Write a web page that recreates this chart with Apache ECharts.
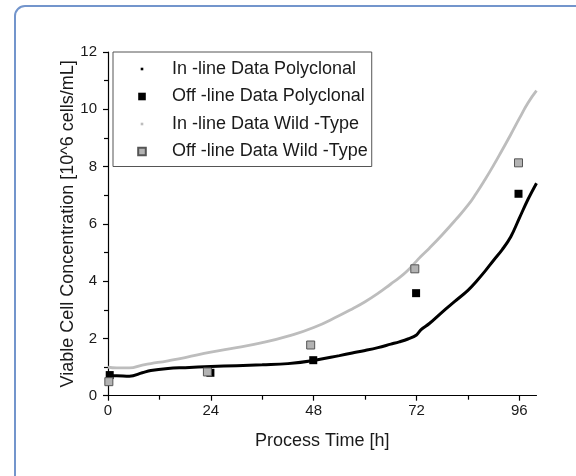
<!DOCTYPE html>
<html>
<head>
<meta charset="utf-8">
<script src="https://cdn.jsdelivr.net/npm/echarts@6/dist/echarts.min.js"></script>
<style>
html,body{margin:0;padding:0;background:#fff;}
#chart{width:576px;height:476px;}
</style>
</head>
<body>
<div id="chart"></div>
<script>
// Time points of the in-line (continuous) measurements [h]
var inlineTime = [0, 2, 5, 8, 10, 14, 18, 24, 30, 36, 42, 48, 54, 57, 60, 63, 66, 68, 70, 72, 73, 75, 78, 81, 84, 86, 88, 90, 92, 94, 96, 98, 100];
// In-line Data Polyclonal [10^6 cells/mL]
var inlinePoly = [0.70, 0.70, 0.68, 0.80, 0.88, 0.95, 0.98, 1.02, 1.05, 1.08, 1.12, 1.23, 1.40, 1.49, 1.58, 1.68, 1.80, 1.88, 1.98, 2.12, 2.30, 2.52, 2.92, 3.30, 3.68, 4.00, 4.35, 4.73, 5.10, 5.55, 6.20, 6.85, 7.42];
// In-line Data Wild-Type
var inlineWild = [1.00, 0.97, 0.97, 1.07, 1.12, 1.22, 1.33, 1.52, 1.68, 1.85, 2.08, 2.38, 2.80, 3.03, 3.28, 3.57, 3.90, 4.12, 4.38, 4.70, 4.86, 5.15, 5.62, 6.12, 6.65, 7.08, 7.55, 8.05, 8.58, 9.12, 9.68, 10.22, 10.65];
// Off-line samples
var offPolyTime = [0.4, 23.9, 47.9, 71.9, 95.8];
var offPolyVal = [0.72, 0.80, 1.24, 3.58, 7.05];
var offWildTime = [0.2, 23.2, 47.3, 71.6, 95.8];
var offWildVal = [0.49, 0.83, 1.77, 4.43, 8.13];
// Axis ticks
var xMajorTicks = [0, 24, 48, 72, 96];
var xMinorTicks = [12, 36, 60, 84];
var seriesNames = ['In -line Data Polyclonal', 'Off -line Data Polyclonal', 'In -line Data Wild -Type', 'Off -line Data Wild -Type'];

function pairs(xs, ys) { return xs.map(function (x, i) { return [x, ys[i]]; }); }

var FONT = 'Liberation Sans, Arial, sans-serif';
var TXT = '#1a1a1a';
var chart = echarts.init(document.getElementById('chart'), null, {renderer: 'canvas'});
var dotIcon = 'path://M0,0M50,8M23.7,2.7h2.6v2.6h-2.6z';
var squareIcon = 'path://M0,0M50,8M21.2,0.2h7.6v7.6h-7.6z';
chart.setOption({
  backgroundColor: '#fff',
  animation: false,
  textStyle: {fontFamily: FONT},
  graphic: [{
    type: 'rect', z: -10,
    shape: {x: 15, y: 6, width: 640, height: 520, r: 10},
    style: {fill: 'none', stroke: '#7395cc', lineWidth: 2}
  }],
  grid: {left: 108, top: 52, right: 39.5, bottom: 80.3, outerBoundsMode: 'none', containLabel: false},
  legend: {
    orient: 'vertical', left: 113, top: 52,
    padding: [8, 4, 6, 3], itemGap: 9.5,
    itemWidth: 50, itemHeight: 8,
    borderColor: '#555', borderWidth: 1, backgroundColor: '#fff',
    textStyle: {fontSize: 18, color: TXT, fontFamily: FONT},
    data: [
      {name: seriesNames[0], icon: dotIcon},
      {name: seriesNames[1], icon: squareIcon},
      {name: seriesNames[2], icon: dotIcon},
      {name: seriesNames[3], icon: squareIcon}
    ]
  },
  xAxis: [{
    type: 'value', min: 0, max: 100,
    name: 'Process Time [h]', nameLocation: 'middle', nameGap: 36, nameMoveOverlap: false,
    nameTextStyle: {fontSize: 18, color: TXT, fontFamily: FONT},
    axisLine: {show: true, onZero: false, lineStyle: {color: '#000', width: 1.2}},
    axisTick: {show: true, inside: false, length: 5, customValues: xMajorTicks, lineStyle: {color: '#000', width: 1.2}},
    axisLabel: {show: true, customValues: xMajorTicks, fontSize: 15, color: TXT, margin: 8, fontFamily: FONT},
    splitLine: {show: false}
  }, {
    type: 'value', min: 0, max: 100, position: 'bottom',
    axisLine: {show: false},
    axisTick: {show: true, inside: false, length: 4, customValues: xMinorTicks, lineStyle: {color: '#000', width: 1.2}},
    axisLabel: {show: false},
    splitLine: {show: false}
  }],
  yAxis: {
    type: 'value', min: 0, max: 12, interval: 2,
    name: 'Viable Cell Concentration [10^6 cells/mL]', nameLocation: 'middle', nameGap: 31, nameMoveOverlap: false,
    nameTextStyle: {fontSize: 18, color: TXT, fontFamily: FONT},
    axisLine: {show: true, lineStyle: {color: '#000', width: 1.2}},
    axisTick: {show: true, inside: false, length: 5, lineStyle: {color: '#000', width: 1.2}},
    minorTick: {show: true, splitNumber: 2, length: 4, lineStyle: {color: '#000', width: 1.2}},
    axisLabel: {fontSize: 15, color: TXT, margin: 11, fontFamily: FONT},
    splitLine: {show: false}
  },
  series: [{
    name: seriesNames[0], type: 'line', z: 3,
    data: pairs(inlineTime, inlinePoly),
    showSymbol: false, symbol: 'none', smooth: 0.4,
    itemStyle: {color: '#000'},
    lineStyle: {color: '#000', width: 3}
  }, {
    name: seriesNames[1], type: 'scatter', z: 5,
    data: pairs(offPolyTime, offPolyVal),
    symbol: 'rect', symbolSize: 8,
    itemStyle: {color: '#000', opacity: 1}
  }, {
    name: seriesNames[2], type: 'line', z: 2,
    data: pairs(inlineTime, inlineWild),
    showSymbol: false, symbol: 'none', smooth: 0.5,
    itemStyle: {color: '#bdbdbd'},
    lineStyle: {color: '#bdbdbd', width: 2.8}
  }, {
    name: seriesNames[3], type: 'scatter', z: 6,
    data: pairs(offWildTime, offWildVal),
    symbol: 'rect', symbolSize: 8,
    itemStyle: {color: '#b3b3b3', borderColor: '#555', borderWidth: 1, opacity: 1}
  }]
});
</script>
</body>
</html>
